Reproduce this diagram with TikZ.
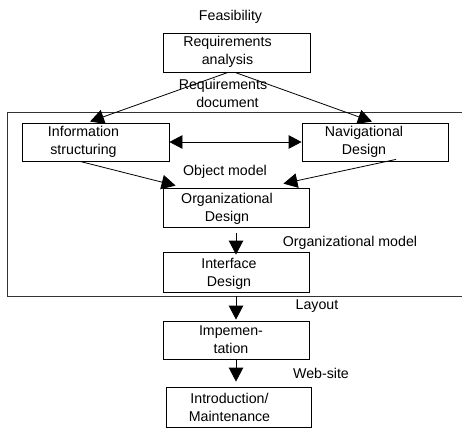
\documentclass[tikz,border=0pt]{standalone}
\usepackage{fontspec}
\setmainfont{Liberation Sans}
\usetikzlibrary{arrows.meta}
\begin{document}
\begin{tikzpicture}[x=1pt,y=-1pt,
  box/.style={draw, line width=0.8pt, inner sep=0pt, minimum width=146pt, minimum height=39pt},
  txt/.style={font=\fontsize{14.2}{18}\selectfont, align=center, inner sep=0pt},
  lbl/.style={font=\fontsize{14.2}{18}\selectfont, inner sep=0pt, anchor=base},
  arr/.style={line width=0.8pt, -{Triangle[length=14pt,width=14.5pt]}},
  darr/.style={line width=0.8pt, {Triangle[length=13pt,width=13.5pt]}-{Triangle[length=13pt,width=13.5pt]}}
]
\useasboundingbox (0,0) rectangle (462,428);

% frame (open on the right)
\draw[line width=0.8pt, draw=black!80] (462,112) -- (7,112) -- (7,296) -- (462,296);

% boxes
\node[box, minimum width=147pt] (req) at (236.5,52.5) {};
\node[box, minimum width=147pt, minimum height=38pt] (info) at (95.5,142) {};
\node[box, minimum height=38pt] (nav) at (375,142) {};
\node[box] (org) at (236,207.5) {};
\node[box, minimum height=40pt] (iface) at (236,272) {};
\node[box, minimum height=38pt] (impl) at (236,340) {};
\node[box, minimum width=145pt, minimum height=40pt] (intro) at (238.5,407) {};

% box texts
\node[txt] (reqt) at ([xshift=-9pt,yshift=1pt]req.center) {Requirements\\analysis};
\node[txt] (infot) at ([xshift=-12pt]info.center) {Information\\structuring};
\node[txt] (navt) at ([xshift=-11pt]nav.center) {Navigational\\Design};
\node[txt] (orgt) at ([xshift=-9pt,yshift=-1pt]org.center) {Organizational\\Design};
\node[txt] (ifacet) at ([xshift=-7pt,yshift=-2pt]iface.center) {Interface\\Design};
\node[txt] (implt) at ([xshift=-5pt]impl.center) {Impemen-\\tation};
\node[txt] (introt) at ([xshift=-9pt]intro.center) {Introduction/\\Maintenance};

% labels
\node[lbl] (feas) at (230.5,21) {Feasibility};
\node[lbl] (reqdoc1) at (223,89) {Requirements};
\node[lbl] (reqdoc2) at (227.5,107) {document};
\node[lbl] (objm) at (225,175) {Object model};
\node[lbl] (orgm) at (350,246) {Organizational model};
\node[lbl] (lay) at (317,309) {Layout};
\node[lbl] (web) at (321,378) {Web-site};

% connectors
\draw[arr] ([xshift=-8.5pt]req.south) -- ([xshift=-5.5pt,yshift=1pt]info.north);
\draw[arr] ([xshift=-1.5pt]req.south) -- ([xshift=-3pt,yshift=1pt]nav.north);
\draw[darr] (info.east) -- (nav.west);
\draw[arr] ([xshift=-15.5pt]info.south) -- ([xshift=13pt,yshift=2pt]org.north west);
\draw[arr] ([xshift=21pt,yshift=2pt]nav.south) -- ([xshift=-26pt,yshift=4pt]org.north east);
\draw[arr] ([yshift=-6pt]org.south) -- ([yshift=-3pt]iface.north);
\draw[arr] ([yshift=-4pt]iface.south) -- ([yshift=1pt]impl.north);
\draw[arr] (impl.south) -- ([xshift=-2.5pt,yshift=5pt]intro.north);
\end{tikzpicture}
\end{document}
